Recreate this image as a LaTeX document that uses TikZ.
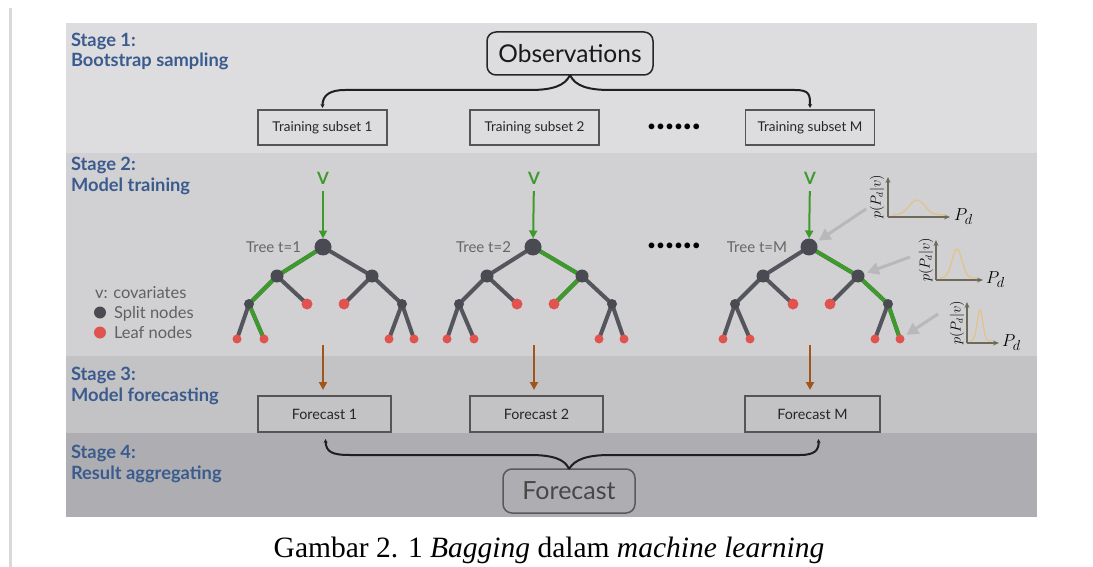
\documentclass[tikz,border=0pt]{standalone}
\usepackage{fontspec}
\setmainfont{Lato}
\newfontfamily\capfont{Liberation Serif}
\usetikzlibrary{arrows.meta,calc}

\definecolor{bandA}{HTML}{DDDDDF}
\definecolor{bandB}{HTML}{D1D1D3}
\definecolor{bandC}{HTML}{C3C3C6}
\definecolor{bandD}{HTML}{AEAEB2}
\definecolor{marginline}{HTML}{D9D9D9}
\definecolor{stageblue}{HTML}{3B5B8E}
\definecolor{splitcol}{HTML}{4A4B52}
\definecolor{leafcol}{HTML}{E0534E}
\definecolor{branchgray}{HTML}{55565D}
\definecolor{pathgreen}{HTML}{3F9A2E}
\definecolor{arrowbrown}{HTML}{A0561B}
\definecolor{hintgray}{HTML}{B8B8BA}
\definecolor{axiscol}{HTML}{6E6A5A}
\definecolor{densitycol}{HTML}{E2C28E}
\definecolor{boxborder}{HTML}{555555}

\pgfdeclarelayer{bands}
\pgfdeclarelayer{edges}
\pgfsetlayers{bands,edges,main}

\tikzset{
  x=1pt, y=-1pt,
  every node/.style={inner sep=0pt, outer sep=0pt},
  stagelbl/.style={anchor=base west, text=stageblue,
    font=\fontsize{18.3}{21}\selectfont\bfseries},
  subsetbox/.style={draw=boxborder, line width=1.2pt, fill=bandA,
    minimum width=129pt, minimum height=35pt, text=black!85,
    font=\fontsize{13.5}{15}\selectfont},
  fcbox/.style={draw=boxborder, line width=1.2pt, fill=bandC,
    minimum width=133pt, minimum height=36pt, text=black!85,
    font=\fontsize{14.3}{16}\selectfont},
  obsbox/.style={draw=black!85, line width=1.5pt, rounded corners=9pt,
    fill=bandA, minimum width=166pt, minimum height=43pt,
    text=black!90, font=\fontsize{24.5}{28}\selectfont},
  finbox/.style={draw=black!65, line width=1.5pt, rounded corners=9pt,
    fill=bandD, minimum width=132pt, minimum height=44pt,
    text=black!72, font=\fontsize{25}{29}\selectfont},
  splitroot/.style={circle, fill=splitcol, minimum size=17pt},
  splitmid/.style={circle, fill=splitcol, minimum size=13pt},
  splitlow/.style={circle, fill=splitcol, minimum size=10pt},
  leafmid/.style={circle, fill=leafcol, minimum size=11pt},
  leaflow/.style={circle, fill=leafcol, minimum size=9pt},
  branch/.style={draw=branchgray, line width=4pt},
  gbranch/.style={draw=pathgreen, line width=4pt, line join=round},
  treelbl/.style={text=black!60, font=\fontsize{15}{17}\selectfont},
  vlbl/.style={text=pathgreen, font=\fontsize{17}{20}\selectfont\bfseries},
  garrow/.style={draw=pathgreen, line width=2pt,
    -{Triangle[length=8pt,width=8pt]}},
  barrow/.style={draw=arrowbrown, line width=2pt,
    -{Triangle[length=8pt,width=8pt]}},
  hintarrow/.style={draw=hintgray, line width=3pt,
    -{Triangle[length=12pt,width=12pt]}},
  brace/.style={draw=black!88, line width=2pt,
    -{Stealth[length=4pt,width=4pt]}},
  axisline/.style={draw=axiscol, line width=1.5pt,
    -{Stealth[length=6pt,width=5pt]}},
  density/.style={draw=densitycol, line width=1.3pt},
  dotsrow/.style={text=black, font=\fontsize{15.5}{17}\selectfont},
  legendtxt/.style={anchor=base west, text=black!62,
    font=\fontsize{16.5}{19}\selectfont},
  denslbl/.style={rotate=90, font=\fontsize{13.5}{15}\selectfont},
  pdlbl/.style={anchor=base west, font=\fontsize{19}{21}\selectfont},
}

% one bagged tree: prefix, root x, label
\newcommand\bagtree[3]{%
  \begin{scope}[shift={(#2,247)}]
    \node[splitroot] (#1r)   at (0,0) {};
    \node[splitmid]  (#1L)   at (-46,29) {};
    \node[splitmid]  (#1R)   at (49,29) {};
    \node[splitlow]  (#1LL)  at (-74,57) {};
    \node[leafmid]   (#1LR)  at (-16,57) {};
    \node[leafmid]   (#1RL)  at (21,57) {};
    \node[splitlow]  (#1RR)  at (79,57) {};
    \node[leaflow]   (#1LLL) at (-86,92) {};
    \node[leaflow]   (#1LLR) at (-59,92) {};
    \node[leaflow]   (#1RRL) at (66,92) {};
    \node[leaflow]   (#1RRR) at (91,92) {};
    \node[treelbl, anchor=base east] (#1lbl) at (-22,5) {#3};
  \end{scope}
  \begin{pgfonlayer}{edges}
    \foreach \a/\b in {r/L,r/R,L/LL,L/LR,R/RL,R/RR,LL/LLL,LL/LLR,RR/RRL,RR/RRR}
      \draw[branch] (#1\a.center) -- (#1\b.center);
  \end{pgfonlayer}
}

\begin{document}
\begin{tikzpicture}
\useasboundingbox (0,0) rectangle (1093,567);

% page margin rule and stage bands
\begin{pgfonlayer}{bands}
  \fill[white] (0,0) rectangle (1093,567);
  \fill[marginline] (8.5,8) rectangle (11.5,567);
  \fill[bandA] (66,23)  rectangle (1037,153);
  \fill[bandB] (66,153) rectangle (1037,356);
  \fill[bandC] (66,356) rectangle (1037,433);
  \fill[bandD] (66,433) rectangle (1037,517);
\end{pgfonlayer}

% stage titles
\node[stagelbl] (s1a) at (71,47)  {Stage 1:};
\node[stagelbl] (s1b) at (71,67)  {Bootstrap sampling};
\node[stagelbl] (s2a) at (71,171) {Stage 2:};
\node[stagelbl] (s2b) at (71,192) {Model training};
\node[stagelbl] (s3a) at (71,380) {Stage 3:};
\node[stagelbl] (s3b) at (71,401) {Model forecasting};
\node[stagelbl] (s4a) at (71,458) {Stage 4:};
\node[stagelbl] (s4b) at (71,479) {Result aggregating};

% stage 1: bootstrap sampling
\node[obsbox] (obs) at (570,53.5) {Observations};
\node[subsetbox] (ts1) at (322.5,127.5) {Training subset 1};
\node[subsetbox] (ts2) at (534.5,127.5) {Training subset 2};
\node[subsetbox] (tsM) at (810,127.5)   {Training subset M};
\node[dotsrow] (dots1) at (674,128) {••••••};

\draw[brace] (obs.south) .. controls (565,86) and (552,90) .. (530,90)
  -- (345,90) .. controls (330,90) and (ts1.north |- 0,95) .. ($(ts1.north)+(0,-2)$);
\draw[brace] (obs.south) .. controls (575,86) and (588,90) .. (610,90)
  -- (795,90) .. controls (810,90) and (tsM.north |- 0,95) .. ($(tsM.north)+(0,-2)$);

% stage 2: trees
\bagtree{ta}{323}{Tree t=1}
\bagtree{tb}{533}{Tree t=2}
\bagtree{tm}{809}{Tree t=M}
\node[dotsrow] (dots2) at (674,247) {••••••};

\begin{pgfonlayer}{edges}
  \draw[gbranch] (tar.center) -- (taL.center) -- (taLL.center) -- (taLLR.center);
  \draw[gbranch] (tbr.center) -- (tbR.center) -- (tbRL.center);
  \draw[gbranch] (tmr.center) -- (tmR.center) -- (tmRR.center) -- (tmRRR.center);
\end{pgfonlayer}

\node[vlbl] (va) at (323,178) {V};
\node[vlbl] (vb) at (534,178) {V};
\node[vlbl] (vm) at (810,178) {V};
\draw[garrow, shorten <=7pt] (va) -- (tar);
\draw[garrow, shorten <=7pt] (vb) -- (tbr);
\draw[garrow, shorten <=7pt] (vm) -- (tmr);

% legend
\node[legendtxt] (lg0) at (95,298) {v: covariates};
\node[circle, fill=splitcol, minimum size=12pt] (lgs) at (100,312.5) {};
\node[legendtxt] (lg1) at (114,318) {Split nodes};
\node[circle, fill=leafcol, minimum size=12pt] (lgl) at (100,332.5) {};
\node[legendtxt] (lg2) at (114,338) {Leaf nodes};

% leaf densities
\draw[axisline] (888,217) -- (888,177);
\draw[axisline] (888,217) -- (950,217);
\draw[density] plot[domain=893:946, samples=60, smooth]
  (\x, {215 - 15*exp(-((\x-917)/11)^2)});
\node[denslbl] (pd1) at (877,197) {$p(P_d|v)$};
\node[pdlbl] (xd1) at (954,220) {$P_d$};

\draw[axisline] (936,280) -- (936,240);
\draw[axisline] (936,280) -- (983,280);
\draw[density] plot[domain=940:978, samples=60, smooth]
  (\x, {278 - 29*exp(-((\x-957)/7)^2)});
\node[denslbl] (pd2) at (926,260) {$p(P_d|v)$};
\node[pdlbl] (xd2) at (986,283) {$P_d$};

\draw[axisline] (967,343) -- (967,302);
\draw[axisline] (967,343) -- (999,343);
\draw[density] plot[domain=970:992, samples=60, smooth]
  (\x, {341 - 31*exp(-((\x-980)/4)^2)});
\node[denslbl] (pd3) at (957,323) {$p(P_d|v)$};
\node[pdlbl] (xd3) at (1002,346) {$P_d$};

\coordinate (h1) at (866,209);
\coordinate (h2) at (910,257);
\coordinate (h3) at (938,314);
\draw[hintarrow, shorten >=3pt] (h1) -- (tmr);
\draw[hintarrow, shorten >=3pt] (h2) -- (tmR);
\draw[hintarrow, shorten >=3pt] (h3) -- (tmRRR);

% stage 3: forecasts
\node[fcbox] (fc1) at (324.5,414) {Forecast 1};
\node[fcbox] (fc2) at (536.5,414) {Forecast 2};
\node[fcbox, minimum width=135pt] (fcM) at (812.5,414) {Forecast M};

\coordinate (ba) at (323,345);
\coordinate (bb) at (534,345);
\coordinate (bm) at (810,345);
\draw[barrow, shorten >=6pt] (ba) -- (ba |- fc1.north);
\draw[barrow, shorten >=6pt] (bb) -- (bb |- fc2.north);
\draw[barrow, shorten >=6pt] (bm) -- (bm |- fcM.north);

% stage 4: aggregation
\node[finbox] (fin) at (569,491) {Forecast};
\draw[brace] (fin.north) .. controls (565,459) and (552,455) .. (530,455)
  -- (350,455) .. controls (332,455) and (326,452) .. ($(fc1.south)+(1,7)$);
\draw[brace] (fin.north) .. controls (575,459) and (588,455) .. (610,455)
  -- (800,455) .. controls (815,455) and (819,450) .. ($(fcM.south)+(6,7)$);

% caption
\node[anchor=base, font=\capfont\fontsize{29.5}{33}\selectfont] (cap) at (549,557)
  {Gambar 2. 1 \textit{Bagging} dalam \textit{machine learning}};
\end{tikzpicture}
\end{document}
